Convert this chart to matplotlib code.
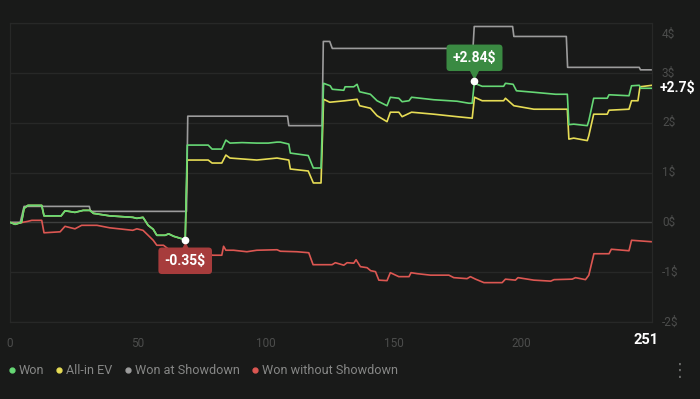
import matplotlib.pyplot as plt
from matplotlib.lines import Line2D
from matplotlib.transforms import offset_copy
#
#--hand index / cumulative winnings ($)
won_x=[0,2,4.5,5.5,7,12.4,13.3,20,21.5,23,25.4,28.6,31.3,32.6,39,48,49.6,52,54,56,57.4,60.7,62,64,68.5,
       69.3,77.5,79,82.8,84.4,86,90.7,96.5,101,104.4,105.7,109,109.6,116.6,118.6,121.6,
       122.6,125.2,126,130.5,131,134.4,135.7,136.7,140.9,143.5,147.4,148.7,152,153.3,156,157,165.7,174.8,179.4,180.7,
       181.6,182.6,184.6,193,193.7,196.7,198,204.8,213.3,217.9,218.5,220.4,225.7,226.3,228.2,233.5,234.2,242,243,246,246.6,251]
won_y=[0,-0.04,0.0,0.28,0.34,0.34,0.13,0.13,0.23,0.22,0.2,0.24,0.24,0.18,0.13,0.1,0.08,0.1,-0.06,-0.14,-0.26,-0.26,-0.23,-0.28,-0.35,
       1.55,1.55,1.47,1.47,1.65,1.59,1.6,1.59,1.59,1.61,1.61,1.57,1.39,1.34,1.09,1.09,
       2.79,2.74,2.67,2.65,2.72,2.72,2.77,2.62,2.57,2.44,2.34,2.51,2.49,2.42,2.44,2.51,2.46,2.43,2.39,2.39,
       2.84,2.77,2.73,2.73,2.79,2.77,2.64,2.61,2.57,2.57,1.96,1.97,1.94,2.04,2.49,2.49,2.56,2.54,2.74,2.75,2.69,2.69]
#
ev_x=[0,2,4.5,5.5,7,12.4,13.3,20,21.5,23,25.4,28.6,31.3,32.6,39,48,49.6,52,54,56,57.4,60.7,62,64,68.5,
      69.3,77.5,79,82.8,84.4,86,96.5,104.4,109,109.6,116.6,118.6,121.6,
      122.6,125,131,135.7,136.7,140.9,143.5,147.4,148.7,152,153.3,157,165.7,174.8,180.7,
      181.6,184.6,193,193.7,197,204.8,217.9,218.5,220.4,225.7,226.3,228.2,233.5,234.2,242,243,245.5,246.3,251]
ev_y=[0,-0.04,0.0,0.28,0.34,0.34,0.13,0.13,0.23,0.22,0.2,0.24,0.24,0.18,0.13,0.1,0.08,0.1,-0.06,-0.14,-0.26,-0.26,-0.23,-0.28,-0.35,
      1.25,1.25,1.19,1.19,1.35,1.29,1.25,1.29,1.25,1.07,1.03,0.79,0.79,
      2.47,2.41,2.44,2.47,2.34,2.29,2.14,2.02,2.21,2.21,2.12,2.21,2.17,2.12,2.09,
      2.51,2.44,2.44,2.49,2.34,2.27,2.27,1.67,1.69,1.64,1.74,2.17,2.17,2.25,2.27,2.44,2.44,2.72,2.75]
#
sd_x=[0,4,5.5,31,31.5,69,69.5,108.5,109,122,122.5,125,126,181,181.5,196.5,197,217.5,218,246,246.5,251]
sd_y=[0,0,0.32,0.32,0.22,0.22,2.13,2.13,1.94,1.94,3.63,3.63,3.49,3.49,3.93,3.93,3.73,3.73,3.11,3.11,3.06,3.06]
#
nsd_x=[0,2,7,8.5,12.4,13.3,19.6,21.5,23,25.4,28,34,39,48,49.6,52,54,56,57.4,60,62,68.5,77.5,79,82.8,83.5,84.4,87.4,92.6,96.5,
       104.4,105.7,112.2,116.8,118.5,125.9,127.2,130.5,131.8,134.4,135.3,137,139.6,141,142.9,144.2,147.4,148.7,152,156,156.8,
       159.2,164.4,171.6,173.5,178.7,180,182,185.3,192.4,193.7,197.6,198.6,204.8,211.4,212.7,219.8,221.1,225,226.3,228.3,
       234.2,235.1,242,243,251]
nsd_y=[0,-0.03,0.02,0.04,0.04,-0.21,-0.19,-0.08,-0.1,-0.13,-0.06,-0.06,-0.11,-0.16,-0.13,-0.16,-0.26,-0.36,-0.46,-0.46,-0.54,-0.57,-0.58,-0.66,-0.66,-0.48,-0.56,-0.56,-0.59,-0.56,
       -0.55,-0.58,-0.59,-0.61,-0.85,-0.85,-0.81,-0.86,-0.81,-0.82,-0.75,-0.89,-0.91,-0.97,-0.99,-1.16,-1.17,-1.01,-1.09,-1.09,-1.01,
       -1.03,-1.06,-1.06,-1.11,-1.13,-1.09,-1.14,-1.21,-1.21,-1.14,-1.16,-1.11,-1.16,-1.18,-1.15,-1.14,-1.11,-1.15,-1.06,-0.63,
       -0.63,-0.54,-0.57,-0.36,-0.39]
#
series_names=['Won','All-in EV','Won at Showdown','Won without Showdown']
series_cols=['#66d875','#e6dc55','#9c9c9c','#dc5752']
yticks=[-2,-1,0,1,2,3,4]
ytick_labels=['-2$','-1$','0$','1$','2$','3$','4$']
xticks=[0,50,100,150,200]
nhands=251
#
plt.rcParams['font.family']=['Roboto','DejaVu Sans']
bg='#191a19'
gridc='#272827'
tickc='#4c4d4c'
#
fig=plt.figure(figsize=(7,3.99),dpi=100,facecolor=bg)
ax=fig.add_axes([10/700,1-322/399,642/700,299/399])
ax.set_facecolor(bg)
ax.set_xlim(0,nhands)
ax.set_ylim(-2,4)
for s in ax.spines.values():
    s.set_color(gridc)
    s.set_linewidth(0.9)
for y in yticks:
    ax.axhline(y,color='#3e3f3e' if y==0 else gridc,lw=1.0,zorder=0)
#
#--lines
ax.plot(sd_x,sd_y,color=series_cols[2],lw=1.2,zorder=2)
ax.plot(nsd_x,nsd_y,color=series_cols[3],lw=1.2,zorder=2)
ax.plot(ev_x,ev_y,color=series_cols[1],lw=1.2,zorder=3)
ax.plot(won_x,won_y,color=series_cols[0],lw=1.2,zorder=4)
#
#--ticks
ax.set_yticks([])
ax.set_xticks(xticks)
ax.set_xticklabels([str(t) for t in xticks])
ax.tick_params(axis='x',length=0,pad=11,labelcolor=tickc,labelsize=8.5)
for v,lab in zip(yticks,ytick_labels):
    dy=-11 if v==4 else 0
    ax.annotate(lab,xy=(1.0,v),xycoords=('axes fraction','data'),xytext=(10,dy),textcoords='offset pixels',
                ha='left',va='center',color=tickc,fontsize=8.5)
ax.annotate(str(nhands),xy=(nhands,-2),xycoords='data',xytext=(-6,-18),textcoords='offset pixels',
            ha='center',va='center',color='white',fontsize=10.5,fontweight='bold',annotation_clip=False)
ax.annotate('+%.1f$'%won_y[-1],xy=(nhands,won_y[-1]),xytext=(8,0),textcoords='offset pixels',
            ha='left',va='center',color='white',fontsize=10,fontweight='bold',annotation_clip=False)
#
#--min / max labels on Won
ilo=won_y.index(min(won_y))
ihi=won_y.index(max(won_y))
for i,col,dy,mk in [(ilo,'#a73c3c',-21,'^'),(ihi,'#3a8a42',23,'v')]:
    xv,yv=won_x[i],won_y[i]
    tri=offset_copy(ax.transData,fig=fig,x=0,y=(-7 if dy<0 else 7),units='dots')
    ax.plot([xv],[yv],marker=mk,color=col,ms=6,transform=tri,zorder=5,clip_on=False)
    ax.plot([xv],[yv],marker='o',color='white',ms=4.5,zorder=7)
    ax.annotate(('%+.2f$'%yv),xy=(xv,yv),xytext=(0,dy),textcoords='offset pixels',ha='center',va='center',
                color='white',fontsize=10,fontweight='bold',zorder=6,
                bbox=dict(boxstyle='round,pad=0.45,rounding_size=0.25',fc=col,ec='none'))
#
#--legend
handles=[Line2D([],[],marker='o',ls='',color=c,markersize=3.5) for c in series_cols]
fig.legend(handles,series_names,loc='center left',bbox_to_anchor=(-0.004,1-371/399),ncol=4,frameon=False,
           handlelength=0.5,handletextpad=0.3,columnspacing=0.95,fontsize=9.1,labelcolor='#868786')
fig.text(680/700,1-371/399,'\u22ee',color='#6a6b6a',fontsize=13,ha='center',va='center',family='DejaVu Sans')
#
fig.savefig('out.png',dpi=100,facecolor=bg)
